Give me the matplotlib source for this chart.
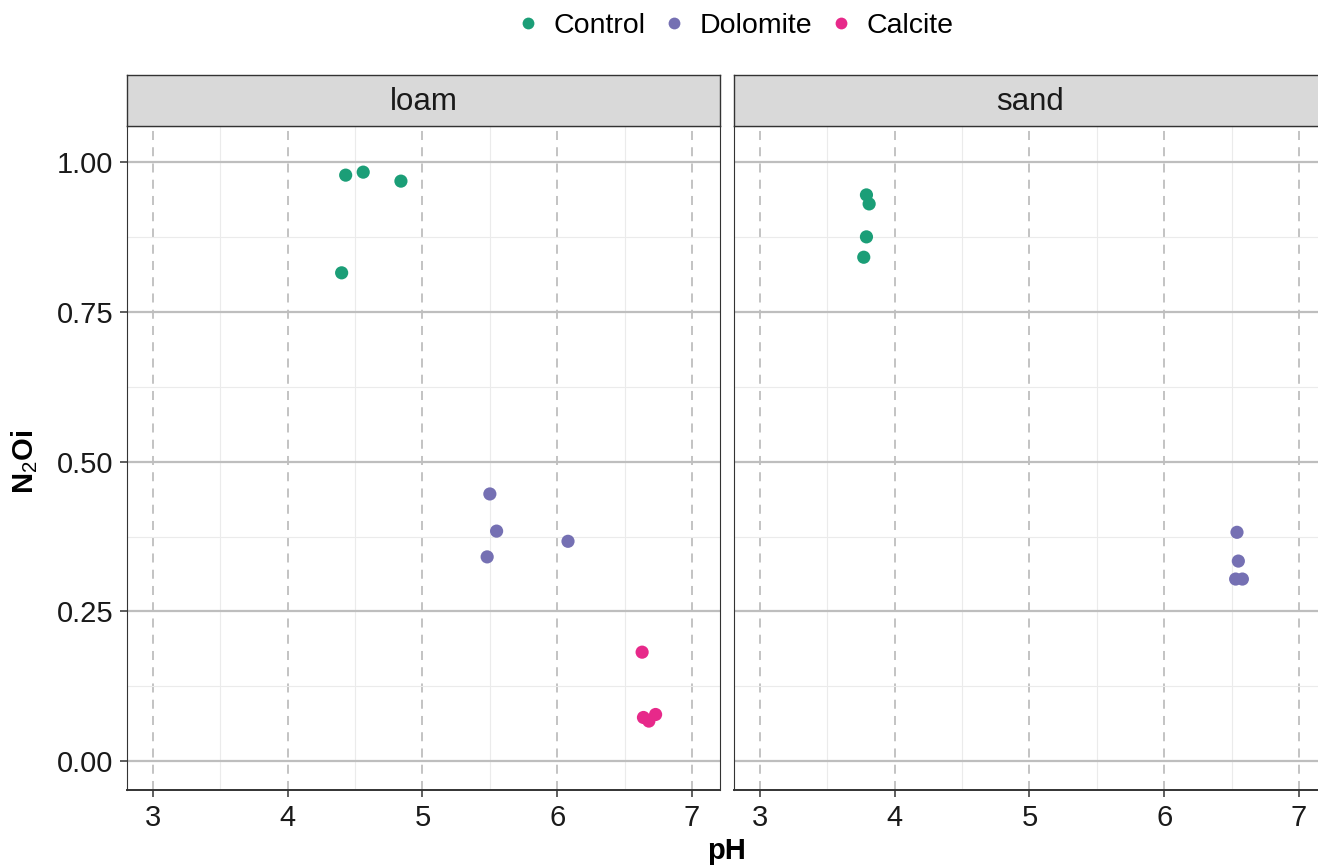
"""N2O index versus soil pH for liming treatments, faceted by soil type."""

import matplotlib

matplotlib.use("Agg")
import matplotlib.pyplot as plt
from matplotlib.ticker import MultipleLocator

plt.rcParams["font.family"] = ["Liberation Sans", "DejaVu Sans"]
plt.rcParams["mathtext.fontset"] = "custom"
plt.rcParams["mathtext.rm"] = "Liberation Sans"
plt.rcParams["mathtext.bf"] = "Liberation Sans:bold"

TREATMENTS = ["Control", "Dolomite", "Calcite"]
COLORS = {"Control": "#1B9E77", "Dolomite": "#7570B3", "Calcite": "#E7298A"}

# loam
loam_control_ph = [4.43, 4.56, 4.84, 4.40]
loam_control_n2oi = [0.978, 0.983, 0.968, 0.815]
loam_dolomite_ph = [5.50, 5.55, 5.48, 6.08]
loam_dolomite_n2oi = [0.446, 0.384, 0.341, 0.367]
loam_calcite_ph = [6.63, 6.64, 6.68, 6.73]
loam_calcite_n2oi = [0.182, 0.073, 0.067, 0.078]

# sand
sand_control_ph = [3.79, 3.81, 3.79, 3.77]
sand_control_n2oi = [0.945, 0.930, 0.875, 0.841]
sand_dolomite_ph = [6.54, 6.55, 6.53, 6.58]
sand_dolomite_n2oi = [0.382, 0.334, 0.304, 0.304]

PANELS = [
    ("loam", {
        "Control": (loam_control_ph, loam_control_n2oi),
        "Dolomite": (loam_dolomite_ph, loam_dolomite_n2oi),
        "Calcite": (loam_calcite_ph, loam_calcite_n2oi),
    }),
    ("sand", {
        "Control": (sand_control_ph, sand_control_n2oi),
        "Dolomite": (sand_dolomite_ph, sand_dolomite_n2oi),
    }),
]

W, H = 1318, 866
fig = plt.figure(figsize=(W / 100, H / 100), dpi=100)

panel_w = 593 / W
panel_b = 1 - 790 / H
panel_h = (790 - 126) / H
strip_h = 51 / H
lefts = [127 / W, 734 / W]

for idx, (soil, groups) in enumerate(PANELS):
    ax = fig.add_axes([lefts[idx], panel_b, panel_w, panel_h])
    ax.set_xlim(2.807, 7.208)
    ax.set_ylim(-0.048, 1.06)
    ax.xaxis.set_major_locator(MultipleLocator(1))
    ax.xaxis.set_minor_locator(MultipleLocator(0.5))
    ax.yaxis.set_major_locator(MultipleLocator(0.25))
    ax.yaxis.set_minor_locator(MultipleLocator(0.125))
    ax.grid(which="minor", color="#EBEBEB", linewidth=0.8)
    ax.grid(which="major", axis="y", color="#BEBEBE", linewidth=1.6)
    ax.grid(which="major", axis="x", color="#BEBEBE", linewidth=1.3,
            linestyle=(0, (5, 4)))
    ax.set_axisbelow(True)

    for name in TREATMENTS:
        if name not in groups:
            continue
        xs, ys = groups[name]
        ax.scatter(xs, ys, s=90, color=COLORS[name], edgecolors="none", zorder=3)

    for side in ("top", "left", "right"):
        ax.spines[side].set_color("#333333")
        ax.spines[side].set_linewidth(0.8)
    ax.spines["bottom"].set_color("#333333")
    ax.spines["bottom"].set_linewidth(1.4)

    ax.tick_params(which="minor", length=0)
    ax.tick_params(axis="x", which="major", length=5, width=1.1, color="#333333",
                   labelsize=21, pad=5, labelcolor="#1A1A1A")
    if idx == 0:
        ax.set_yticks([0, 0.25, 0.5, 0.75, 1.0])
        ax.set_yticklabels(["0.00", "0.25", "0.50", "0.75", "1.00"])
        ax.tick_params(axis="y", which="major", length=5, width=1.1,
                       color="#333333", labelsize=21, pad=5, labelcolor="#1A1A1A")
    else:
        ax.tick_params(axis="y", which="major", length=0, labelleft=False)

    sax = fig.add_axes([lefts[idx], panel_b + panel_h, panel_w, strip_h])
    sax.set_xticks([])
    sax.set_yticks([])
    sax.set_facecolor("#D9D9D9")
    for sp in sax.spines.values():
        sp.set_color("#333333")
        sp.set_linewidth(1.0)
    sax.text(0.5, 0.47, soil, ha="center", va="center", fontsize=22.5,
             color="#1A1A1A", transform=sax.transAxes)

fig.text(727 / W, 1 - 851 / H, "pH", ha="center", va="center",
         fontsize=21, weight="bold")
fig.text(25 / W, 1 - 462 / H, r"$\mathbf{N}_{2}\mathbf{Oi}$", ha="center",
         va="center", fontsize=21, rotation=90)

handles = [
    plt.Line2D([], [], marker="o", linestyle="none", markersize=8.5,
               markerfacecolor=COLORS[n], markeredgecolor="none")
    for n in TREATMENTS
]
fig.legend(handles, TREATMENTS, loc="center", bbox_to_anchor=(735 / W, 1 - 26 / H),
           ncol=3, frameon=False, fontsize=20.5, handletextpad=0.5,
           columnspacing=0.6, handlelength=0.8)

fig.savefig("out.png", dpi=100)
